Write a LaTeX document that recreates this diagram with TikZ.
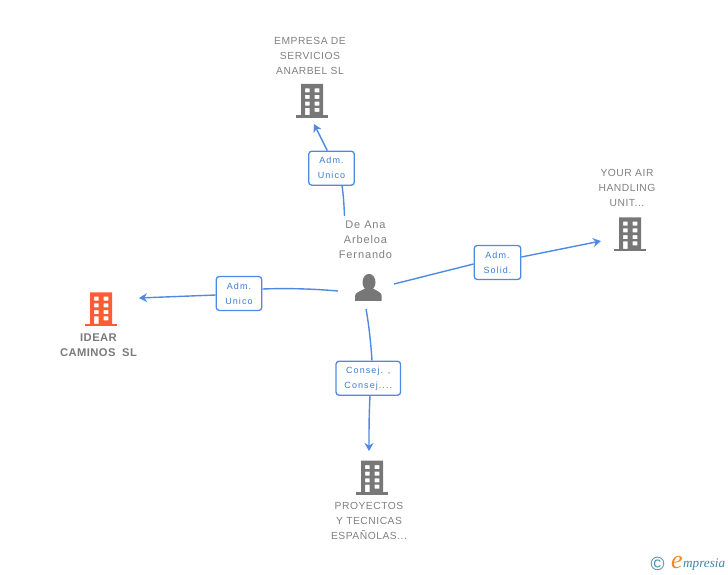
\documentclass[tikz,border=0pt]{standalone}
\usepackage{fontspec}
\setmainfont{Liberation Sans}
\newfontfamily\spacedfont[LetterSpace=5]{Liberation Sans}
\newfontfamily\personfont[LetterSpace=8]{Liberation Sans}
\newfontfamily\rolefont[LetterSpace=12]{Liberation Sans}
\newfontfamily\boldspaced[LetterSpace=4]{Liberation Sans Bold}
\newfontfamily\logofont{Liberation Serif}
\definecolor{txtgrey}{HTML}{808080}
\definecolor{boldgrey}{HTML}{7A7A7A}
\definecolor{icongrey}{HTML}{777777}
\definecolor{iconorange}{HTML}{FF5C33}
\definecolor{linkblue}{HTML}{4F8AE2}
\definecolor{labelblue}{HTML}{3F7BD8}
\definecolor{logoteal}{HTML}{3C87A5}
\definecolor{logoorange}{HTML}{F08A1E}
\usetikzlibrary{arrows.meta}
\tikzset{
  nametext/.style={font=\fontsize{10.3}{15}\spacedfont, text=txtgrey, align=center, inner sep=0pt},
  persontext/.style={font=\fontsize{11}{15}\personfont, text=txtgrey, align=center, inner sep=0pt},
  boldname/.style={font=\fontsize{11.2}{15}\boldspaced, text=boldgrey, align=center, inner sep=0pt},
  rolebox/.style={draw=linkblue, line width=1.3pt, rounded corners=3pt, fill=white, text=labelblue,
     font=\fontsize{9}{15}\rolefont, align=center, inner sep=0pt, minimum height=34pt},
  link/.style={draw=linkblue, line width=1.4pt},
  linkarrow/.style={link, -{Stealth[length=8pt,width=9pt]}},
  pics/building/.style={code={
    \fill[#1,even odd rule] (-11,0) rectangle (11,31.5)
      (-7,4.3) rectangle (-2.3,8.3) (2.7,4.3) rectangle (7.3,8.3)
      (-7,11) rectangle (-2.3,15) (2.7,11) rectangle (7.3,15)
      (-7,17.7) rectangle (-2.3,21.7) (2.7,17.7) rectangle (7.3,21.7)
      (-7,24) rectangle (-2.3,31.5) (2.7,24) rectangle (7.3,28);
    \fill[#1] (-15.7,31.5) rectangle (15.8,34);
  }}
}
\begin{document}
\begin{tikzpicture}[x=1pt,y=-1pt]
\useasboundingbox (0,0) rectangle (728,575);
% buildings
\pic at (312,84) {building=icongrey};
\pic at (101,292.3) {building=iconorange};
\pic at (630,217.3) {building=icongrey};
\pic at (372,460.7) {building=icongrey};
% person
\fill[icongrey] (369,282.2) ellipse (6.5 and 8.3);
\fill[icongrey] (355,300.8) -- (355,296) .. controls (355,292.5) and (360,291.5) .. (365,288.5)
  -- (373,288.5) .. controls (378,291.5) and (381.7,292.5) .. (381.7,296) -- (381.7,300.8) -- cycle;
% names
\node[nametext] (n1) at (310,55.5) {EMPRESA DE\\SERVICIOS\\ANARBEL SL};
\node[nametext] (n2) at (627,188) {YOUR AIR\\HANDLING\\UNIT...};
\node[boldname] (n3) at (98.5,345) {IDEAR\\CAMINOS\hspace{3pt} SL};
\node[nametext] (n4) at (369,521) {PROYECTOS\\Y TECNICAS\\ESPAÑOLAS...};
\node[persontext] (n5) at (365.5,240) {De Ana\\Arbeloa\\Fernando};
% role boxes
\node[rolebox, minimum width=45.5pt] (r1) at (331.5,168.2) {Adm.\\Unico};
\node[rolebox, minimum width=45.5pt] (r2) at (239,293.5) {Adm.\\Unico};
\node[rolebox, minimum width=46.5pt] (r3) at (497.5,262.5) {Adm.\\Solid.};
\node[rolebox, minimum width=64.5pt] (r4) at (368.3,378.2) {Consej. ,\\Consej....};
% free ends
\coordinate (s1) at (344.5,216);
\coordinate (e1) at (314,124);
\coordinate (s2) at (338,291);
\coordinate (e2) at (139,298);
\coordinate (s3) at (394,284);
\coordinate (e3) at (601,241);
\coordinate (s4) at (366,309);
\coordinate (e4) at (369,451);
% connectors
\draw[link] (s1) .. controls (344,205) and (343.5,195) .. (r1.south -| 342,0);
\draw[linkarrow] (r1.north -| 327.3,0) -- (e1);
\draw[link] (s2) .. controls (315,289) and (290,288) .. (r2.east |- 0,289);
\draw[linkarrow] (r2.west |- 0,295) -- (e2);
\draw[link] (s3) -- (r3.west |- 0,264);
\draw[linkarrow] (r3.east |- 0,257) -- (e3);
\draw[link] (s4) .. controls (369,325) and (371,345) .. (r4.north -| 372,0);
\draw[linkarrow] (r4.south -| 370,0) .. controls (369,415) and (369,430) .. (e4);
% logo
\node[text=logoteal, font=\fontsize{19}{19}\selectfont, inner sep=0pt] (c) at (657.5,564) {©};
\node[anchor=base west, inner sep=0pt, text=logoorange, font=\fontsize{26}{26}\logofont\itshape] (le) at (671,568.5) {e};
\node[anchor=base west, inner sep=0pt, text=logoteal, font=\fontsize{13.2}{14}\logofont\itshape] (lm) at (683,567.5) {mpresia};
\end{tikzpicture}
\end{document}
